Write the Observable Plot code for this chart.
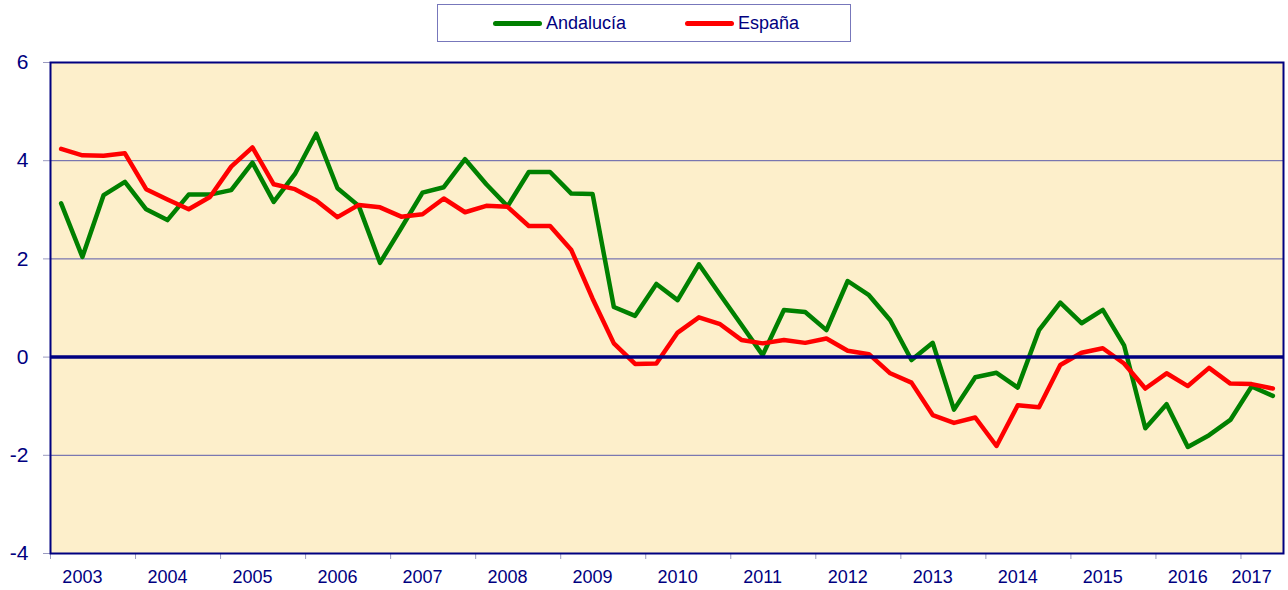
<!DOCTYPE html>
<html>
<head>
<meta charset="utf-8">
<script src="https://cdn.jsdelivr.net/npm/d3@7"></script>
<script src="https://cdn.jsdelivr.net/npm/@observablehq/plot@0.6"></script>
<style>
  html, body { margin: 0; padding: 0; background: #fff; }
  #wrap { position: relative; width: 1288px; height: 590px; font-family: "Liberation Sans", Arial, sans-serif; }
  #legend { position: absolute; left: 437px; top: 4px; width: 412px; height: 36px; border: 1px solid #7777bb; background: #fff; }
  .item { position: absolute; top: 0; height: 36px; display: flex; align-items: center; font-size: 18px; color: #000080; }
  .swatch { display: inline-block; width: 49px; height: 5px; border-radius: 3px; margin-right: 4px; }
</style>
</head>
<body>
<div id="wrap">
  <div id="chart"></div>
  <div id="legend"></div>
</div>
<script>
const years = [2003, 2004, 2005, 2006, 2007, 2008, 2009, 2010, 2011, 2012, 2013, 2014, 2015, 2016, 2017];
const quartersPerYear = [4, 4, 4, 4, 4, 4, 4, 4, 4, 4, 4, 4, 4, 4, 2];
const seriesNames = ["Andalucía", "España"];
const seriesColors = ["#008000", "#FF0000"];
const andalucia = [3.13, 2.04, 3.30, 3.57, 3.01, 2.79, 3.31, 3.31, 3.40, 3.96,
  3.16, 3.73, 4.55, 3.44, 3.08, 1.92, 2.63, 3.35, 3.46, 4.03,
  3.52, 3.07, 3.77, 3.77, 3.33, 3.32, 1.02, 0.84, 1.49, 1.16,
  1.89, 1.27, 0.66, 0.04, 0.96, 0.92, 0.55, 1.55, 1.26, 0.75,
  -0.06, 0.29, -1.07, -0.41, -0.32, -0.62, 0.55, 1.11, 0.69, 0.96,
  0.24, -1.45, -0.96, -1.83, -1.59, -1.28, -0.60, -0.79];
const espana = [4.24, 4.11, 4.10, 4.15, 3.42, 3.21, 3.01, 3.26, 3.88, 4.27,
  3.52, 3.42, 3.19, 2.85, 3.10, 3.05, 2.86, 2.91, 3.23, 2.95,
  3.08, 3.06, 2.67, 2.67, 2.18, 1.19, 0.28, -0.14, -0.13, 0.50,
  0.81, 0.67, 0.35, 0.28, 0.35, 0.29, 0.38, 0.13, 0.06, -0.33,
  -0.52, -1.18, -1.34, -1.23, -1.81, -0.98, -1.02, -0.16, 0.09, 0.18,
  -0.13, -0.64, -0.33, -0.59, -0.22, -0.54, -0.55, -0.64];
const yTicks = [-4, -2, 0, 2, 4, 6];
const gridValues = [-2, 2, 4];

// quarter positions (center of each quarter, in fractional years)
const quarters = [];
years.forEach((yr, k) => { for (let q = 0; q < quartersPerYear[k]; q++) quarters.push(yr + (q + 0.5) / 4); });
const rows = [];
[andalucia, espana].forEach((vals, s) => vals.forEach((v, i) => rows.push({t: quarters[i], v, s: seriesNames[s]})));
const yearLabels = years.map((yr, k) => ({yr, t: yr + quartersPerYear[k] / 8 - 0.125}));

const xDomain = [years[0], years[years.length - 1] + quartersPerYear[quartersPerYear.length - 1] / 4];

const chart = Plot.plot({
  width: 1288,
  height: 590,
  marginTop: 62,
  marginBottom: 37,
  marginLeft: 50,
  marginRight: 5,
  style: {fontFamily: "'Liberation Sans', Arial, sans-serif", background: "transparent"},
  x: {domain: xDomain, axis: null},
  y: {domain: [-4, 6], axis: null},
  color: {domain: seriesNames, range: seriesColors},
  marks: [
    Plot.frame({fill: "#FDEFCB", stroke: null}),
    Plot.ruleY(gridValues, {stroke: "#5a5aaa", strokeWidth: 1}),
    Plot.axisY({ticks: yTicks, label: null, tickSize: 7, tickPadding: 15, fontSize: 21, stroke: "#9a9ac0", fill: "#000080", tickFormat: d => String(d)}),
    Plot.axisX({ticks: years, label: null, tickSize: 6, stroke: "#9a9ac0", fill: "none", tickFormat: () => ""}),
    Plot.text(yearLabels, {x: "t", y: () => -4, text: d => String(d.yr), dy: 24, fontSize: 18, fill: "#000080", textAnchor: "middle", lineAnchor: "middle"}),
    Plot.lineY(rows, {x: "t", y: "v", z: "s", stroke: "s", strokeWidth: 4.5, strokeLinejoin: "round", strokeLinecap: "round"}),
    Plot.ruleY([0], {stroke: "#000080", strokeWidth: 3.5}),
    Plot.frame({stroke: "#000080", strokeWidth: 2})
  ]
});
document.getElementById("chart").appendChild(chart);

const legend = document.getElementById("legend");
const legendLeft = [55, 247];
seriesNames.forEach((name, i) => {
  const it = document.createElement("div");
  it.className = "item";
  it.style.left = legendLeft[i] + "px";
  it.innerHTML = `<span class="swatch" style="background:${seriesColors[i]}"></span><span>${name}</span>`;
  legend.appendChild(it);
});
</script>
</body>
</html>
